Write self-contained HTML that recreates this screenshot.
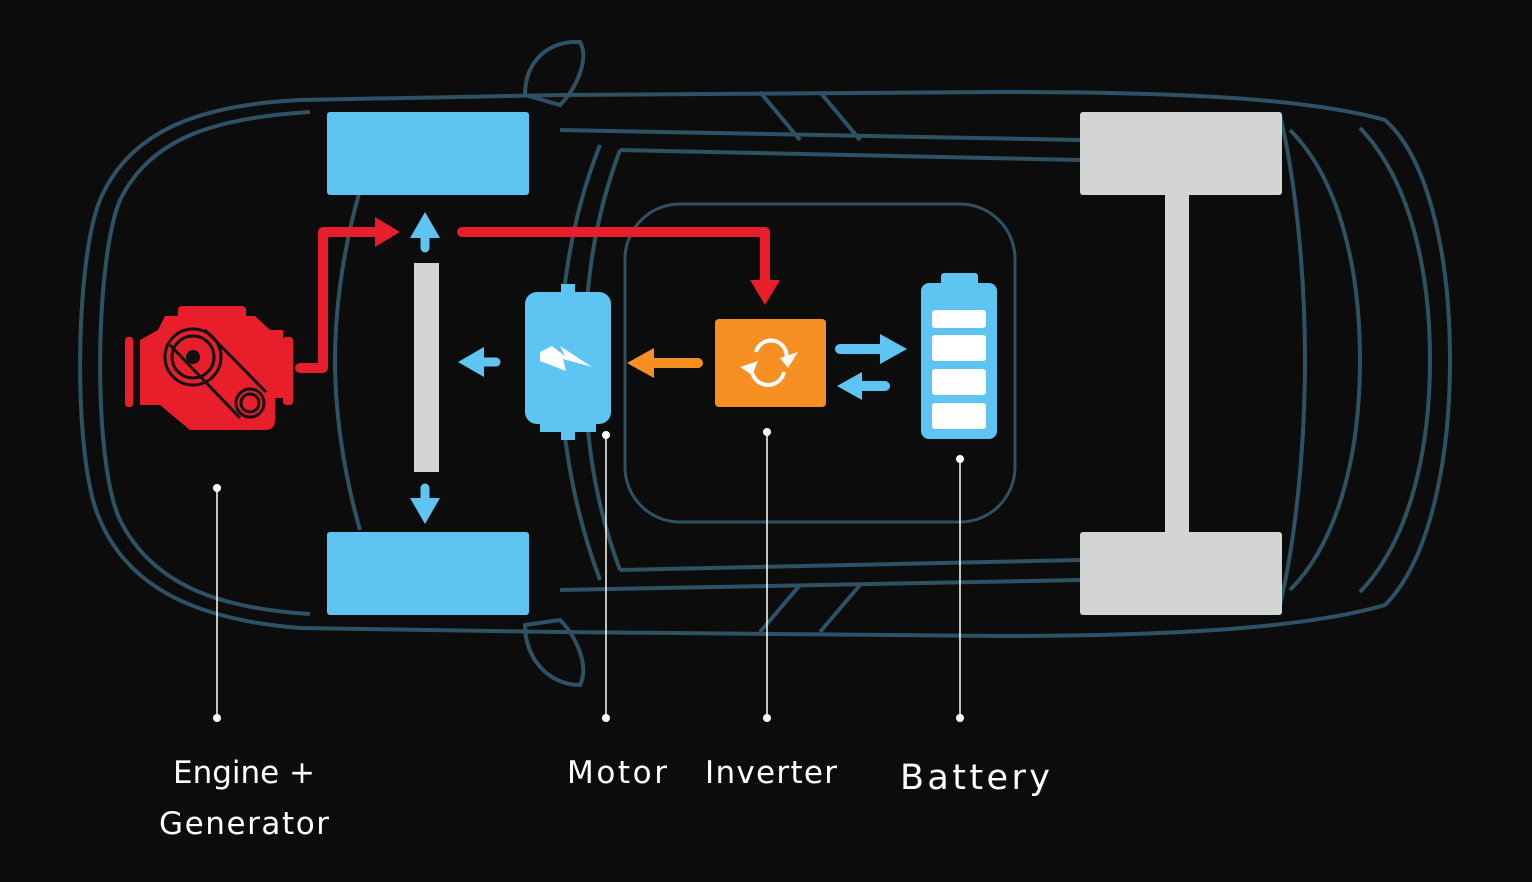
<!DOCTYPE html>
<html><head><meta charset="utf-8"><style>
html,body{margin:0;padding:0;background:#0d0c0c;}
svg{display:block}
text{font-family:"DejaVu Sans","Liberation Sans",sans-serif;fill:#fff;}
</style></head><body>
<svg width="1532" height="882" viewBox="0 0 1532 882" xmlns="http://www.w3.org/2000/svg">
<rect width="1532" height="882" fill="#0d0c0c"/>
<g fill="none" stroke="#2f5164" stroke-width="4">
<path d="M300 100 C200 105 130 130 100 200 C75 260 72 460 100 520 C130 590 200 620 300 628 L560 632 L1000 636 C1150 636 1300 630 1385 605 C1430 560 1450 460 1450 360 C1450 260 1430 160 1385 120 C1300 96 1150 92 1000 92 L560 95 Z"/>
<path d="M310 112 C210 118 150 140 120 200 C95 260 92 460 120 520 C150 580 210 608 310 614"/>
<path d="M1360 128 C1410 180 1430 270 1430 360 C1430 450 1410 540 1360 592"/>
<path d="M560 130 L1080 140 M560 590 L1080 580"/>
<path d="M600 145 C570 220 560 300 560 360 C560 420 570 500 600 580"/>
<path d="M620 150 C590 230 585 300 585 360 C585 420 590 490 620 570"/>
<path d="M620 150 L1080 160 M620 570 L1080 560"/>
<path d="M1280 115 C1300 200 1305 300 1305 360 C1305 420 1300 520 1280 605"/>
<path d="M1290 130 C1340 180 1360 270 1360 360 C1360 450 1340 540 1290 590"/>
<path d="M360 190 C340 260 335 320 335 360 C335 400 340 460 360 530"/>
<path d="M525 95 C525 60 550 40 580 42 C590 60 575 90 560 105 Z"/>
<path d="M525 625 C525 660 550 685 580 685 C590 665 575 635 560 620 Z"/>
<path d="M760 92 L800 140 M820 92 L860 140 M760 632 L800 585 M820 632 L860 585"/>
<rect x="625" y="204" width="390" height="318" rx="55" stroke-width="3"/>
</g>
<rect x="327" y="112" width="202" height="83" rx="3" fill="#5ec5f2"/>
<rect x="327" y="532" width="202" height="83" rx="3" fill="#5ec5f2"/>
<rect x="1080" y="112" width="202" height="83" rx="3" fill="#d2d5d4"/>
<rect x="1080" y="532" width="202" height="83" rx="3" fill="#d2d5d4"/>
<rect x="1165" y="195" width="24" height="337" fill="#d2d5d4"/>
<rect x="414" y="263" width="25" height="209" fill="#d2d5d4"/>
<g fill="#e81e2b">
<rect x="178" y="306" width="68" height="14" rx="4"/>
<path d="M165 316 L255 316 L270 330 L283 330 L283 398 L275 398 L275 420 Q275 430 265 430 L190 430 L160 405 L140 405 L140 340 L158 330 Z"/>
<rect x="125" y="337" width="8" height="70" rx="3"/>
<rect x="283" y="337" width="10" height="68" rx="3"/>
<path d="M300 368 L323 368 L323 232 L380 232" stroke="#e81e2b" stroke-width="10" fill="none" stroke-linecap="round" stroke-linejoin="round"/>
<polygon points="375,217 400,232 375,247"/>
<path d="M462 232 L765 232 L765 285" stroke="#e81e2b" stroke-width="10" fill="none" stroke-linecap="round" stroke-linejoin="round"/>
<polygon points="750,280 780,280 765,305"/>
</g>
<g fill="none" stroke="#111" stroke-width="3">
<circle cx="193" cy="357" r="28"/><circle cx="193" cy="357" r="21"/>
<circle cx="250" cy="403" r="14"/><circle cx="250" cy="403" r="9"/>
<path d="M170 345 L240 418 M205 330 L266 392"/>
</g>
<circle cx="193" cy="357" r="7" fill="#111"/>
<g fill="#5ec5f2">
<rect x="561" y="284" width="14" height="10"/>
<rect x="525" y="292" width="86" height="132" rx="12"/>
<rect x="540" y="420" width="56" height="12"/>
<rect x="561" y="430" width="14" height="10"/>
<path d="M480 362 L496 362" stroke="#5ec5f2" stroke-width="9" stroke-linecap="round"/>
<polygon points="458,362 484,347 484,377"/>
<path d="M425 248 L425 232" stroke="#5ec5f2" stroke-width="9" stroke-linecap="round"/>
<polygon points="410,238 425,212 440,238"/>
<path d="M425 488 L425 502" stroke="#5ec5f2" stroke-width="9" stroke-linecap="round"/>
<polygon points="410,498 425,524 440,498"/>
</g>
<polygon points="540,352 552,346 565,356 560,346 592,367 563,359 566,371 540,361" fill="#fff"/>
<rect x="715" y="319" width="111" height="88" rx="4" fill="#f78f22"/>
<g fill="none" stroke="#fff" stroke-width="4"><path d="M756 352 A15 15 0 0 1 786 360"/><path d="M784 372 A15 15 0 0 1 752 365"/></g>
<polygon points="780,358 798,352 788,368" fill="#fff"/><polygon points="740,367 758,361 752,375" fill="#fff"/>
<path d="M650 363 L698 363" stroke="#f78f22" stroke-width="10" stroke-linecap="round"/>
<polygon points="627,363 654,348 654,378" fill="#f78f22"/>
<path d="M840 349 L885 349 M885 386 L860 386" stroke="#5ec5f2" stroke-width="10" stroke-linecap="round"/>
<polygon points="880,334 907,349 880,364" fill="#5ec5f2"/>
<polygon points="837,386 862,372 862,400" fill="#5ec5f2"/>
<rect x="941" y="273" width="37" height="14" rx="3" fill="#5ec5f2"/>
<rect x="921" y="283" width="76" height="156" rx="8" fill="#5ec5f2"/>
<g fill="#fff"><rect x="932" y="310" width="54" height="18" rx="3"/><rect x="932" y="335" width="54" height="26" rx="3"/><rect x="932" y="369" width="54" height="26" rx="3"/><rect x="932" y="403" width="54" height="26" rx="3"/></g>
<g stroke="#fff" stroke-width="1.5"><path d="M217 488 V718 M606 435 V718 M767 432 V718 M960 459 V718"/></g>
<g fill="#fff"><circle cx="217" cy="488" r="4"/><circle cx="217" cy="718" r="4"/><circle cx="606" cy="435" r="4"/><circle cx="606" cy="718" r="4"/><circle cx="767" cy="432" r="4"/><circle cx="767" cy="718" r="4"/><circle cx="960" cy="459" r="4"/><circle cx="960" cy="718" r="4"/></g>
<text x="244" y="783" font-size="31" text-anchor="middle" textLength="142">Engine +</text>
<text x="244" y="834" font-size="31" text-anchor="middle" textLength="170">Generator</text>
<text x="617" y="783" font-size="31" text-anchor="middle" textLength="100">Motor</text>
<text x="771" y="783" font-size="31" text-anchor="middle" textLength="132">Inverter</text>
<text x="975" y="789" font-size="35" text-anchor="middle" textLength="150">Battery</text>
</svg>
</body></html>
